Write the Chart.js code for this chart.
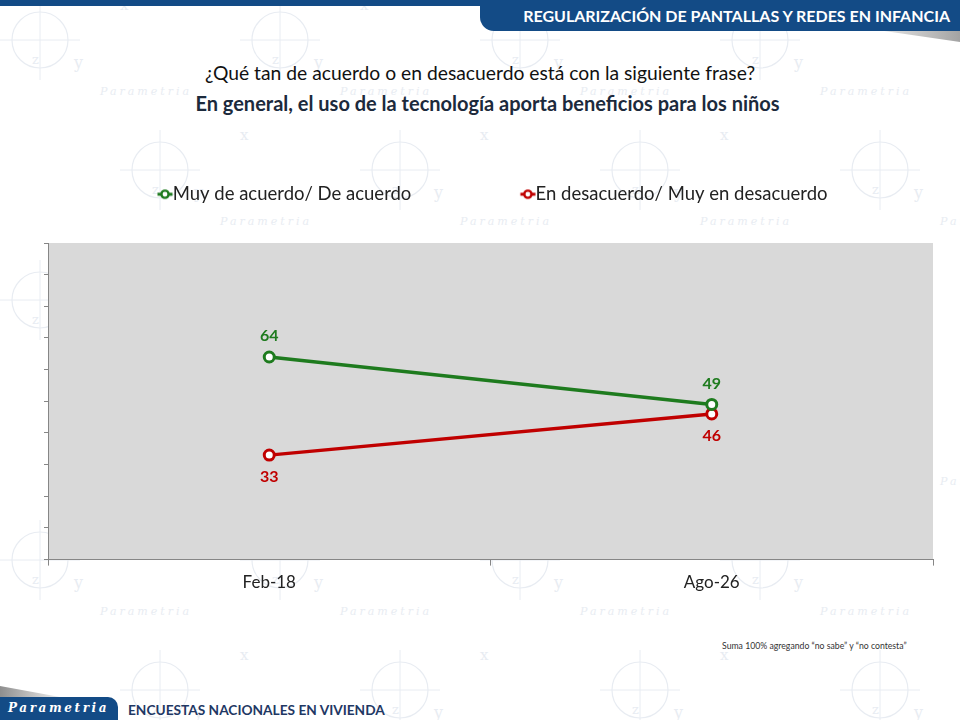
<!DOCTYPE html>
<html lang="es">
<head>
<meta charset="utf-8">
<title>Regularización de pantallas y redes en infancia</title>
<script src="https://cdn.jsdelivr.net/npm/chart.js@4.4.1/dist/chart.umd.min.js"></script>
<style>
    html, body { margin: 0; padding: 0; }
    body { width: 960px; height: 720px; position: relative; overflow: hidden; background: #fff; font-family: Lato, 'Open Sans', sans-serif; }
    #fondo { position: absolute; left: 0; top: 0; }
    .barra { position: absolute; left: 0; top: 0; width: 960px; height: 6px; background: #134b86; }
    .sombra { position: absolute; right: 0; top: 26px; width: 110px; height: 16px; background: linear-gradient(to right, rgba(150,150,150,0), rgba(140,140,140,0.8)); clip-path: polygon(0 0, 100% 0, 100% 100%); }
    .pestana { position: absolute; left: 480px; top: 0; width: 480px; height: 31px; background: #134b86; border-bottom-left-radius: 14px; color: #fff; font-weight: 700; font-size: 16px; line-height: 31px; text-align: right; padding-right: 10px; box-sizing: border-box; }
    .pregunta { position: absolute; left: 0; top: 61px; width: 960px; text-align: center; font-size: 19.3px; color: #111; }
    .frase { position: absolute; left: 0; top: 91px; width: 975px; text-align: center; font-size: 20px; font-weight: 700; color: #1c2a3c; }
    .grafica { position: absolute; left: 0; top: 60px; width: 960px; height: 560px; }
    .nota { position: absolute; left: 722px; top: 640px; font-size: 8.7px; color: #333; }
    .logo { position: absolute; left: 0; top: 697px; width: 118px; height: 23px; background: #134b86; border-top-right-radius: 10px; color: #fff; font-family: 'DejaVu Serif', serif; font-style: italic; font-weight: 700; font-size: 12px; letter-spacing: 2.6px; line-height: 23px; padding-left: 8px; box-sizing: border-box; }
    .logo-sombra { position: absolute; left: 0; top: 686px; width: 60px; height: 11px; background: linear-gradient(to right, rgba(130,130,130,0.9), rgba(170,170,170,0.2)); clip-path: polygon(0 0, 100% 100%, 0 100%); }
    .pie { position: absolute; left: 128px; top: 701px; font-size: 13.7px; font-weight: 700; color: #1f3864; }
</style>
</head>
<body>
<svg id="fondo" width="960" height="720" xmlns="http://www.w3.org/2000/svg"></svg>
<div class="barra"></div>
<div class="sombra"></div>
<div class="pestana">REGULARIZACIÓN DE PANTALLAS Y REDES EN INFANCIA</div>
<div class="pregunta">¿Qué tan de acuerdo o en desacuerdo está con la siguiente frase?</div>
<div class="frase">En general, el uso de la tecnología aporta beneficios para los niños</div>
<div class="grafica"><canvas id="grafica"></canvas></div>
<div class="nota">Suma 100% agregando “no sabe” y “no contesta”</div>
<div class="logo-sombra"></div>
<div class="logo">Parametria</div>
<div class="pie">ENCUESTAS NACIONALES EN VIVIENDA</div>

<script>
const periodos = ['Feb-18', 'Ago-26'];
const deAcuerdo = [64, 49];
const enDesacuerdo = [33, 46];
const nombresSeries = ['Muy de acuerdo/ De acuerdo', 'En desacuerdo/ Muy en desacuerdo'];

const VERDE = '#1e7b1e';
const ROJO = '#c00000';
const TAM_LEYENDA = 18.5;

/**
 * Dibuja la marca de agua de fondo (círculos, ejes y el nombre de la casa encuestadora)
 */
function dibujarFondo() {
    const svg = document.getElementById('fondo');
    const color = '#e8ecf2';
    let contenido = '';
    const filas = [20, 150, 280, 410, 540, 670];
    for (let f = 0; f < filas.length; f++) {
        for (let c = 0; c < 5; c++) {
            const x = c * 240 + (f % 2 ? 120 : 0) + 40;
            const y = filas[f];
            contenido += '<circle cx="' + x + '" cy="' + (y + 20) + '" r="28" fill="none" stroke="' + color + '" stroke-width="1.2"/>';
            contenido += '<line x1="' + (x - 40) + '" y1="' + (y + 20) + '" x2="' + (x + 40) + '" y2="' + (y + 20) + '" stroke="' + color + '"/>';
            contenido += '<line x1="' + x + '" y1="' + (y - 20) + '" x2="' + x + '" y2="' + (y + 60) + '" stroke="' + color + '"/>';
            contenido += '<text x="' + (x + 34) + '" y="' + (y + 48) + '" fill="' + color + '" font-family="DejaVu Serif" font-size="16">y</text>';
            contenido += '<text x="' + (x - 8) + '" y="' + (y + 44) + '" fill="' + color + '" font-family="DejaVu Serif" font-size="13">z</text>';
            contenido += '<text x="' + (x + 80) + '" y="' + (y - 10) + '" fill="' + color + '" font-family="DejaVu Serif" font-size="15">x</text>';
            contenido += '<text x="' + (x + 60) + '" y="' + (y + 75) + '" fill="' + color + '" font-family="DejaVu Serif" font-style="italic" font-size="11" letter-spacing="3">Parametria</text>';
        }
    }
    svg.innerHTML = contenido;
}

/**
 * Crea el icono de la leyenda: una línea con un círculo hueco, pegado al texto
 * @param color el color de la serie
 * @returns {HTMLCanvasElement} el icono
 */
function iconoLeyenda(color) {
    const ancho = 14 + TAM_LEYENDA;
    const c = document.createElement('canvas');
    c.width = Math.round(ancho);
    c.height = 12;
    const ctx = c.getContext('2d');
    const x0 = ancho - 15;
    ctx.strokeStyle = color;
    ctx.lineWidth = 3;
    ctx.beginPath();
    ctx.moveTo(x0, 6);
    ctx.lineTo(x0 + 15, 6);
    ctx.stroke();
    ctx.fillStyle = '#fff';
    ctx.lineWidth = 2.4;
    ctx.beginPath();
    ctx.arc(x0 + 7.5, 6, 3.6, 0, Math.PI * 2);
    ctx.fill();
    ctx.stroke();
    return c;
}

// Fondo gris del área de trazado
const fondoArea = {
    id: 'fondoArea',
    beforeDraw(chart) {
        const {ctx, chartArea} = chart;
        ctx.save();
        ctx.fillStyle = '#d9d9d9';
        ctx.fillRect(chartArea.left, chartArea.top, chartArea.right - chartArea.left, chartArea.bottom - chartArea.top);
        ctx.restore();
    }
};

// Separa la leyenda del área de trazado
const espacioLeyenda = {
    id: 'espacioLeyenda',
    beforeInit(chart) {
        const fitOriginal = chart.legend.fit;
        chart.legend.fit = function () {
            fitOriginal.bind(chart.legend)();
            this.height += 29.5;
        };
    }
};

// Etiquetas con el valor de cada punto
const etiquetasDatos = {
    id: 'etiquetasDatos',
    afterDatasetsDraw(chart) {
        const ctx = chart.ctx;
        ctx.save();
        ctx.font = 'bold 16px Lato, sans-serif';
        ctx.textAlign = 'center';
        ctx.textBaseline = 'middle';
        chart.data.datasets.forEach((ds, i) => {
            const meta = chart.getDatasetMeta(i);
            meta.data.forEach((punto, j) => {
                const dy = ds.posicionEtiqueta === 'arriba' ? -21 : 22;
                ctx.fillStyle = ds.borderColor;
                ctx.fillText(ds.data[j], punto.x, punto.y + dy);
            });
        });
        ctx.restore();
    }
};

dibujarFondo();

Chart.defaults.font.family = 'Lato, sans-serif';
Chart.defaults.color = '#222';

const ctx = document.getElementById('grafica').getContext('2d');
new Chart(ctx, {
    type: 'line',
    data: {
        labels: periodos,
        datasets: [
            {
                label: nombresSeries[0],
                data: deAcuerdo,
                borderColor: VERDE,
                backgroundColor: VERDE,
                borderWidth: 3.5,
                pointRadius: 5,
                pointBorderWidth: 3,
                pointBackgroundColor: '#fff',
                posicionEtiqueta: 'arriba'
            },
            {
                label: nombresSeries[1],
                data: enDesacuerdo,
                borderColor: ROJO,
                backgroundColor: ROJO,
                borderWidth: 3.5,
                pointRadius: 5,
                pointBorderWidth: 3,
                pointBackgroundColor: '#fff',
                posicionEtiqueta: 'abajo'
            }
        ]
    },
    options: {
        responsive: true,
        maintainAspectRatio: false,
        animation: false,
        layout: {
            padding: {top: 24, left: 44, right: 27, bottom: 20}
        },
        scales: {
            x: {
                offset: true,
                grid: {
                    offset: true,
                    drawOnChartArea: false,
                    drawTicks: true,
                    tickLength: 6,
                    color: '#868686'
                },
                border: {display: true, color: '#868686', width: 1},
                ticks: {
                    font: {size: 17},
                    color: '#222',
                    padding: 7
                }
            },
            y: {
                min: 0,
                max: 100,
                grid: {
                    drawOnChartArea: false,
                    drawTicks: true,
                    tickLength: 4,
                    color: '#868686'
                },
                border: {display: true, color: '#868686', width: 1},
                ticks: {
                    stepSize: 10,
                    display: false
                }
            }
        },
        plugins: {
            legend: {
                position: 'top',
                labels: {
                    usePointStyle: true,
                    pointStyleWidth: 14,
                    padding: 101,
                    font: {size: TAM_LEYENDA},
                    color: '#222',
                    generateLabels(chart) {
                        return chart.data.datasets.map((ds, i) => ({
                            text: ds.label,
                            pointStyle: iconoLeyenda(ds.borderColor),
                            fillStyle: ds.borderColor,
                            strokeStyle: ds.borderColor,
                            lineWidth: 0,
                            fontColor: '#222',
                            hidden: !chart.isDatasetVisible(i),
                            datasetIndex: i
                        }));
                    }
                }
            },
            tooltip: {enabled: false}
        }
    },
    plugins: [fondoArea, espacioLeyenda, etiquetasDatos]
});
</script>
</body>
</html>
